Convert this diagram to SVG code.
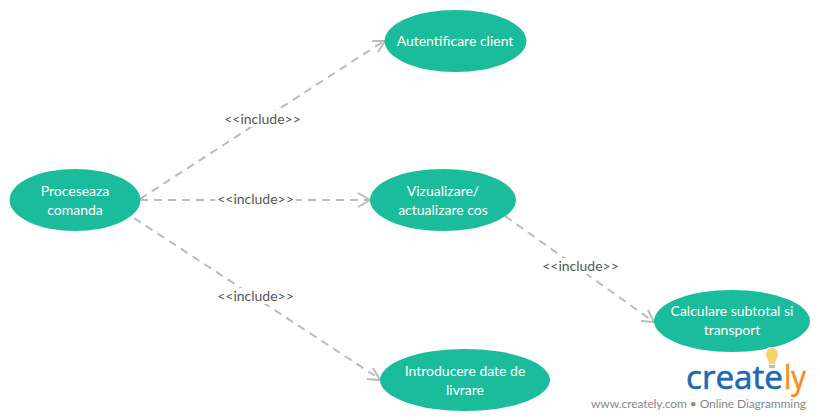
<svg xmlns="http://www.w3.org/2000/svg" width="820" height="420" viewBox="0 0 820 420">
<style>
.n{fill:#1abc9c}
.t{font-family:Lato,"Open Sans",sans-serif;font-size:14px;fill:#fff;text-anchor:middle}
.c{fill:none;stroke:#bbb;stroke-width:2;stroke-dasharray:8 6}
.h{fill:none;stroke:#bbb;stroke-width:2}
.l{font-family:Lato,"Open Sans",sans-serif;font-size:14px;fill:#555;text-anchor:middle}
.g{fill:#fff;stroke:none}
</style>
<rect width="820" height="420" fill="#fff"/>
<g id="connectors">
<path class="c" d="M140 199L384 41"/><path class="h" d="M372 41L385 41L378 52"/>
<path class="c" d="M140 200H369"/><path class="h" d="M358 193L370 200L358 207"/>
<path class="c" d="M134 218L380 379"/><path class="h" d="M373 368L380 380L367 379"/>
<path class="c" d="M505 216L654 322"/><path class="h" d="M648 310L654 322L641 321"/>
<rect class="g" x="222" y="111" width="81" height="16"/><text class="l" x="262.500" y="124">&lt;&lt;include&gt;&gt;</text>
<rect class="g" x="215" y="192" width="81" height="16"/><text class="l" x="255.500" y="204">&lt;&lt;include&gt;&gt;</text>
<rect class="g" x="215" y="288" width="81" height="16"/><text class="l" x="255.500" y="301">&lt;&lt;include&gt;&gt;</text>
<rect class="g" x="540" y="258" width="81" height="16"/><text class="l" x="580.500" y="271">&lt;&lt;include&gt;&gt;</text>
</g>
<g id="n1"><ellipse class="n" cx="75" cy="200" rx="65.500" ry="31"/><text class="t" x="75" y="196">Proceseaza</text><text class="t" x="75" y="215">comanda</text></g>
<g id="n2"><ellipse class="n" cx="455.500" cy="41" rx="71" ry="31"/><text class="t" x="455" y="46">Autentificare client</text></g>
<g id="n3"><ellipse class="n" cx="443" cy="200" rx="73" ry="31"/><text class="t" x="443" y="196">Vizualizare/</text><text class="t" x="443" y="215">actualizare cos</text></g>
<g id="n4"><ellipse class="n" cx="465" cy="380" rx="85" ry="31"/><text class="t" x="465" y="376">Introducere date de</text><text class="t" x="465" y="395">livrare</text></g>
<g id="n5"><ellipse class="n" cx="732" cy="321" rx="78" ry="31"/><text class="t" x="732" y="316">Calculare subtotal si</text><text class="t" x="732" y="335">transport</text></g>
<g id="logo">
<circle cx="772" cy="358" r="11" fill="#fff"/>
<path d="M772 348a6 6 0 0 1 6 6c0 4-3 6-3 10h-6c0-4-3-6-3-10a6 6 0 0 1 6-6z" fill="#f7d467"/>
<rect x="769" y="365" width="6" height="3" fill="#bbb"/>
<text x="686" y="389" font-family="'Open Sans',Lato,sans-serif" font-size="32" stroke="#1f69b0" stroke-width=".6" fill="#1f69b0" textLength="97" lengthAdjust="spacingAndGlyphs">create</text>
<text x="784" y="389" font-family="'Open Sans',Lato,sans-serif" font-size="32" stroke="#f58f1e" stroke-width=".6" fill="#f58f1e" textLength="22" lengthAdjust="spacingAndGlyphs">ly</text>
<text x="591" y="408" font-family="Lato,sans-serif" font-size="12" fill="#888" textLength="215">www.creately.com • Online Diagramming</text>
</g>
</svg>
